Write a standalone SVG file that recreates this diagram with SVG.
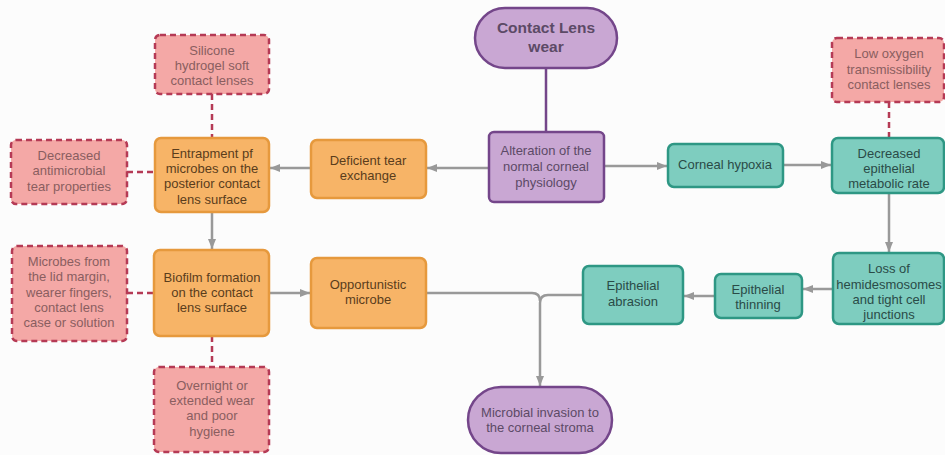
<svg xmlns="http://www.w3.org/2000/svg" width="945" height="455" viewBox="0 0 945 455">
<defs>
<marker id="ah" markerWidth="10" markerHeight="8" refX="10" refY="4" orient="auto" markerUnits="userSpaceOnUse">
<path d="M0,0 L10,4 L0,8 Z" fill="#999"/>
</marker>
<style>
text{font-family:"Liberation Sans",Arial,sans-serif;font-size:13px;text-anchor:middle}
.pu{fill:#c9a7d3;stroke:#74468a;stroke-width:2.5}
.pt{fill:#5c4a66}
.or{fill:#f7b467;stroke:#e6993d;stroke-width:2.5}
.ot{fill:#5a3d1c}
.te{fill:#7ecdbf;stroke:#2e9784;stroke-width:2.5}
.tt{fill:#2a4b47}
.pk{fill:#f4a8a6;stroke:#b53a55;stroke-width:2.5;stroke-dasharray:6 4}
.kt{fill:#8a5e60}
.c{fill:none;stroke:#999;stroke-width:2.5}
.d{fill:none;stroke:#b53a55;stroke-width:2.5;stroke-dasharray:6 4}
</style>
</defs>
<rect width="945" height="455" fill="#fcfcfc"/>
<g id="connectors">
<line x1="546" y1="68" x2="546" y2="132" stroke="#74468a" stroke-width="2.5"/>
<line class="c" x1="489" y1="168" x2="427" y2="168" marker-end="url(#ah)"/>
<line class="c" x1="311" y1="168" x2="270" y2="168" marker-end="url(#ah)"/>
<line class="c" x1="212" y1="212" x2="212" y2="249" marker-end="url(#ah)"/>
<line class="c" x1="269" y1="293" x2="310" y2="293" marker-end="url(#ah)"/>
<line class="c" x1="604" y1="166" x2="667" y2="166" marker-end="url(#ah)"/>
<line class="c" x1="783" y1="165" x2="831" y2="165" marker-end="url(#ah)"/>
<line class="c" x1="889" y1="193" x2="889" y2="252" marker-end="url(#ah)"/>
<line class="c" x1="833" y1="289" x2="803" y2="289" marker-end="url(#ah)"/>
<line class="c" x1="715" y1="296" x2="684" y2="296" marker-end="url(#ah)"/>
<path class="c" d="M426,293 H532 Q540,293 540,301"/>
<path class="c" d="M583,295 H548 Q540,295 540,303 V386" marker-end="url(#ah)"/>
<line class="d" x1="212" y1="94" x2="212" y2="138"/>
<line class="d" x1="127" y1="172" x2="155" y2="172"/>
<line class="d" x1="127" y1="293" x2="154" y2="293"/>
<line class="d" x1="212" y1="336" x2="212" y2="367"/>
<line class="d" x1="889" y1="102" x2="889" y2="138"/>
</g>
<g id="contact-lens-wear">
<rect class="pu" x="475" y="8" width="142" height="60" rx="30"/>
<text class="pt" x="546" y="33" style="font-size:15.5px;font-weight:bold">Contact Lens</text>
<text class="pt" x="546" y="52" style="font-size:15.5px;font-weight:bold">wear</text>
</g>
<g id="alteration">
<rect class="pu" x="489" y="132" width="115" height="70" rx="5"/>
<text class="pt" x="546" y="155">Alteration of the</text>
<text class="pt" x="546" y="171">normal corneal</text>
<text class="pt" x="546" y="187">physiology</text>
</g>
<g id="deficient-tear">
<rect class="or" x="311" y="140" width="115" height="58" rx="6"/>
<text class="ot" x="368" y="165">Deficient tear</text>
<text class="ot" x="368" y="180">exchange</text>
</g>
<g id="entrapment">
<rect class="or" x="155" y="138" width="114" height="74" rx="6"/>
<text class="ot" x="212" y="158">Entrapment pf</text>
<text class="ot" x="212" y="173">microbes on the</text>
<text class="ot" x="212" y="188">posterior contact</text>
<text class="ot" x="212" y="204">lens surface</text>
</g>
<g id="silicone">
<rect class="pk" x="155" y="35" width="114" height="59" rx="5"/>
<text class="kt" x="212" y="55">Silicone</text>
<text class="kt" x="212" y="70">hydrogel soft</text>
<text class="kt" x="212" y="85">contact lenses</text>
</g>
<g id="decreased-antimicrobial">
<rect class="pk" x="11" y="140" width="116" height="64" rx="5"/>
<text class="kt" x="69" y="160">Decreased</text>
<text class="kt" x="69" y="175">antimicrobial</text>
<text class="kt" x="69" y="191">tear properties</text>
</g>
<g id="biofilm">
<rect class="or" x="154" y="250" width="115" height="86" rx="6"/>
<text class="ot" x="212" y="282">Biofilm formation</text>
<text class="ot" x="212" y="297">on the contact</text>
<text class="ot" x="212" y="312">lens surface</text>
</g>
<g id="microbes-source">
<rect class="pk" x="12" y="246" width="115" height="95" rx="5"/>
<text class="kt" x="69" y="266">Microbes from</text>
<text class="kt" x="69" y="281">the lid margin,</text>
<text class="kt" x="69" y="297">wearer fingers,</text>
<text class="kt" x="69" y="312">contact lens</text>
<text class="kt" x="69" y="327">case or solution</text>
</g>
<g id="overnight">
<rect class="pk" x="154" y="367" width="115" height="85" rx="5"/>
<text class="kt" x="212" y="390">Overnight or</text>
<text class="kt" x="212" y="405">extended wear</text>
<text class="kt" x="212" y="420">and poor</text>
<text class="kt" x="212" y="436">hygiene</text>
</g>
<g id="opportunistic">
<rect class="or" x="311" y="258" width="115" height="70" rx="6"/>
<text class="ot" x="368" y="289">Opportunistic</text>
<text class="ot" x="368" y="304">microbe</text>
</g>
<g id="microbial-invasion">
<rect class="pu" x="468" y="387" width="144" height="66" rx="33"/>
<text class="pt" x="540" y="417">Microbial invasion to</text>
<text class="pt" x="540" y="432">the corneal stroma</text>
</g>
<g id="epithelial-abrasion">
<rect class="te" x="583" y="266" width="100" height="58" rx="6"/>
<text class="tt" x="633" y="290">Epithelial</text>
<text class="tt" x="633" y="306">abrasion</text>
</g>
<g id="epithelial-thinning">
<rect class="te" x="715" y="274" width="87" height="44" rx="6"/>
<text class="tt" x="758" y="294">Epithelial</text>
<text class="tt" x="758" y="309">thinning</text>
</g>
<g id="loss-hemidesmosomes">
<rect class="te" x="833" y="253" width="111" height="71" rx="6"/>
<text class="tt" x="889" y="273">Loss of</text>
<text class="tt" x="889" y="289">hemidesmosomes</text>
<text class="tt" x="889" y="304">and tight cell</text>
<text class="tt" x="889" y="319">junctions</text>
</g>
<g id="corneal-hypoxia">
<rect class="te" x="668" y="144" width="115" height="43" rx="6"/>
<text class="tt" x="725" y="169">Corneal hypoxia</text>
</g>
<g id="decreased-epithelial">
<rect class="te" x="832" y="138" width="112" height="55" rx="6"/>
<text class="tt" x="889" y="158">Decreased</text>
<text class="tt" x="889" y="173">epithelial</text>
<text class="tt" x="889" y="188">metabolic rate</text>
</g>
<g id="low-oxygen">
<rect class="pk" x="832" y="38" width="112" height="64" rx="5"/>
<text class="kt" x="889" y="58">Low oxygen</text>
<text class="kt" x="889" y="74">transmissibility</text>
<text class="kt" x="889" y="89">contact lenses</text>
</g>
</svg>
